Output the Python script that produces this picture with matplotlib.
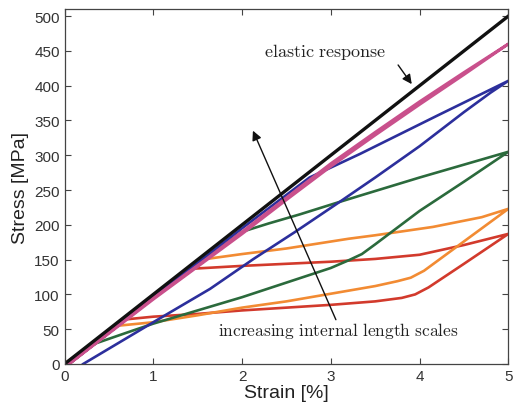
import matplotlib
matplotlib.use('Agg')
import matplotlib.pyplot as plt

plt.rcParams['font.family'] = ['Liberation Sans', 'DejaVu Sans']
plt.rcParams['mathtext.fontset'] = 'cm'

# elastic reference line
elastic_strain = [0.0, 5.0]
elastic_stress = [0.0, 500.0]

# hysteresis loops, one per internal length scale (loading then unloading)
red_strain = [0.0, 0.68, 1.0, 1.5, 2.0, 2.5, 3.0, 3.5, 3.8, 3.95, 4.1, 4.5, 5.0,
              4.5, 4.0, 3.5, 3.0, 2.5, 2.0, 1.45, 0.7, 0.05]
red_stress = [0.0, 64, 68, 72, 77, 81, 85, 90, 95, 100, 110, 144, 187,
              171, 157, 151, 147, 144, 141, 137, 66, 0.0]

orange_strain = [0.0, 0.6, 1.0, 1.5, 2.0, 2.5, 3.0, 3.5, 3.75, 3.9, 4.05, 5.0,
                 4.7, 4.15, 3.5, 3.2, 2.5, 2.0, 1.6, 0.8, 0.05]
orange_stress = [0.0, 55, 60, 70, 81, 90, 101, 112, 119, 124, 134, 223,
                 211, 197, 185, 180, 166, 158, 151, 75, 0.0]

green_strain = [0.0, 0.36, 0.7, 1.0, 1.5, 2.0, 2.5, 3.0, 3.2, 3.35, 3.5, 4.0, 4.5, 5.0,
                4.0, 3.33, 3.1, 2.65, 2.3, 2.0, 1.0, 0.05]
green_stress = [0.0, 30, 45, 58, 77, 96, 117, 138, 149, 158, 172, 220, 262, 305,
                268, 242, 233, 215, 202, 190, 95, 0.0]

blue_strain = [0.21, 1.0, 1.64, 2.13, 2.6, 3.1, 3.5, 4.0, 4.5, 4.8, 5.0,
               4.2, 3.33, 2.76, 2.0, 1.0, 0.05]
blue_stress = [0.0, 60, 108, 151, 190, 233, 268, 313, 362, 390, 407,
               357, 302, 268, 195, 96, 0.0]

pink_strain = [0.05, 1.0, 1.6, 2.0, 2.5, 3.0, 3.5, 4.0, 4.5, 5.0,
               4.5, 4.0, 3.5, 3.0, 2.5, 2.0, 1.5, 1.0, 0.05]
pink_stress = [0.0, 95, 151, 190, 239, 288, 333, 377, 419, 460,
               416, 373, 329, 284, 236, 187, 140, 93, 0.0]

x_ticks = [0, 1, 2, 3, 4, 5]
y_ticks = [0, 50, 100, 150, 200, 250, 300, 350, 400, 450, 500]


def plot_loops():
    fig = plt.figure(figsize=(5.14, 4.06), dpi=100)
    ax = fig.add_axes([0.1255, 0.101, 0.8635, 0.874])

    ax.plot(red_strain, red_stress, color='#d23a2c', lw=1.9)
    ax.plot(orange_strain, orange_stress, color='#f28b33', lw=1.9)
    ax.plot(green_strain, green_stress, color='#2b6a3c', lw=1.9)
    ax.plot(blue_strain, blue_stress, color='#2c2f9c', lw=1.9)
    ax.plot(pink_strain, pink_stress, color='#c9508c', lw=2.1)
    ax.plot(elastic_strain, elastic_stress, color='#111111', lw=2.4)

    ax.text(2.94, 450, r'$\mathrm{elastic\ response}$', fontsize=13,
            ha='center', va='center', color='#222222')
    ax.annotate('', xy=(3.93, 399), xytext=(3.74, 433),
                arrowprops=dict(arrowstyle='-|>', color='#111111', lw=1.0,
                                mutation_scale=14))

    ax.text(3.08, 49, r'$\mathrm{increasing\ internal\ length\ scales}$', fontsize=12.5,
            ha='center', va='center', color='#222222')
    ax.annotate('', xy=(2.11, 339), xytext=(3.07, 60),
                arrowprops=dict(arrowstyle='-|>', color='#111111', lw=1.0,
                                mutation_scale=14))

    ax.set_xlim(0, 5)
    ax.set_ylim(0, 510)
    ax.set_xticks(x_ticks)
    ax.set_yticks(y_ticks)
    ax.tick_params(direction='in', top=True, right=True, length=4,
                   labelsize=11, colors='#444444', labelcolor='#333333')
    for side in ax.spines.values():
        side.set_color('#444444')
        side.set_linewidth(0.9)

    ax.set_xlabel('Strain [%]', fontsize=14, color='#222222', labelpad=1)
    ax.set_ylabel('Stress [MPa]', fontsize=14, color='#222222', labelpad=4)

    fig.savefig('out.png', dpi=100)


if __name__ == '__main__':
    plot_loops()
